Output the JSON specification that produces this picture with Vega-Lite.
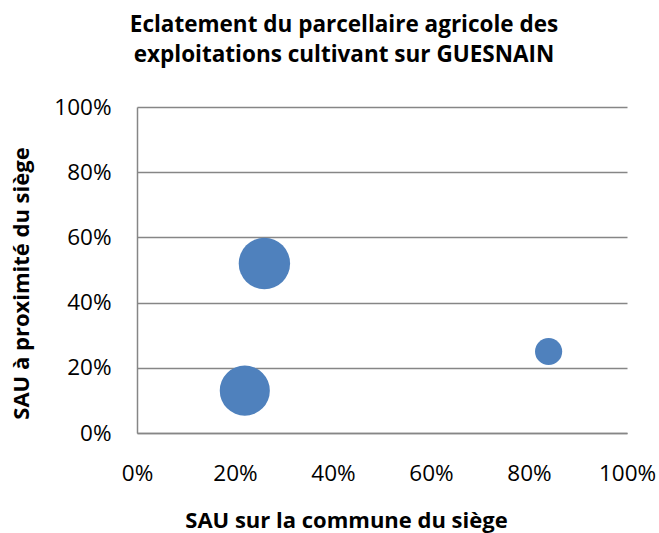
{
  "$schema": "https://vega.github.io/schema/vega-lite/v6.json",
  "width": 490,
  "height": 326,
  "autosize": "none",
  "padding": {"left": 137, "top": 107, "right": 32, "bottom": 100},
  "background": "white",
  "config": {"view": {"stroke": null}, "font": "Open Sans"},
  "title": {
    "text": ["Eclatement du parcellaire agricole des", "exploitations cultivant sur GUESNAIN"],
    "fontSize": 22.5,
    "fontWeight": "bold",
    "font": "Open Sans",
    "color": "black",
    "anchor": "middle",
    "dx": -38,
    "offset": 30,
    "lineHeight": 30
  },
  "data": {
    "values": [
      {"commune": 0.26, "proximite": 0.52, "taille": 10},
      {"commune": 0.22, "proximite": 0.13, "taille": 9.5},
      {"commune": 0.84, "proximite": 0.25, "taille": 2.8}
    ]
  },
  "mark": {"type": "circle", "opacity": 1, "color": "#4F81BD"},
  "encoding": {
    "x": {
      "field": "commune",
      "type": "quantitative",
      "scale": {"domain": [0, 1], "nice": false, "zero": true},
      "axis": {
        "values": [0, 0.2, 0.4, 0.6, 0.8, 1],
        "format": ".0%",
        "grid": false,
        "domainColor": "#868686",
        "domainWidth": 1.5,
        "ticks": false,
        "labelPadding": 29,
        "labelFontSize": 22.5,
        "labelColor": "black",
        "labelFlush": false,
        "title": "SAU sur la commune du siège",
        "titleFontSize": 22,
        "titleFontWeight": "bold",
        "titleColor": "black",
        "titleX": 209,
        "titleY": 94,
        "titleBaseline": "alphabetic",
        "titleAlign": "center"
      }
    },
    "y": {
      "field": "proximite",
      "type": "quantitative",
      "scale": {"domain": [0, 1], "nice": false, "zero": true},
      "axis": {
        "values": [0, 0.2, 0.4, 0.6, 0.8, 1],
        "format": ".0%",
        "grid": true,
        "gridColor": "#868686",
        "gridWidth": 1.5,
        "domainColor": "#868686",
        "domainWidth": 1.5,
        "ticks": false,
        "labelPadding": 26,
        "labelFontSize": 22.5,
        "labelColor": "black",
        "labelFlush": false,
        "title": "SAU à proximité du siège",
        "titleFontSize": 22,
        "titleFontWeight": "bold",
        "titleColor": "black",
        "titleAngle": -90,
        "titleX": -116,
        "titleY": 176,
        "titleAlign": "center",
        "titleBaseline": "middle"
      }
    },
    "size": {
      "field": "taille",
      "type": "quantitative",
      "scale": {"type": "linear", "domain": [0, 10], "range": [0, 2640]},
      "legend": null
    }
  }
}
